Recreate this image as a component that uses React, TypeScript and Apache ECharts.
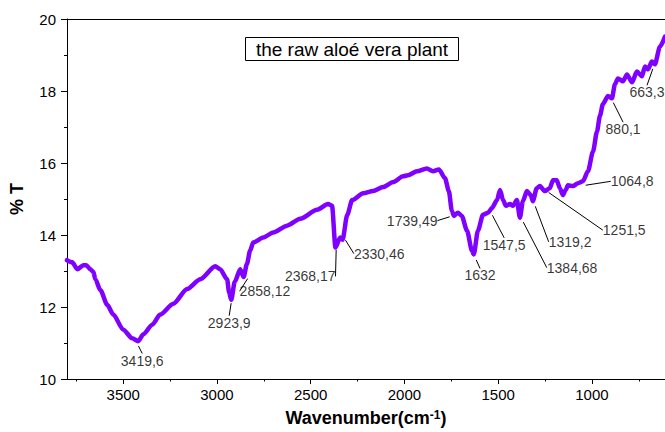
import React, { useEffect, useRef } from "react";
import * as echarts from "echarts";

// Spectrum (wavenumber in cm^-1, transmittance in %)
const wavenumbers = [
  3800, 3772, 3745, 3713, 3697, 3676, 3659, 3649, 3622, 3585, 3553, 3500, 3452, 3420, 3393, 3345, 3303,
  3233, 3159, 3089, 3009, 2983, 2946, 2935, 2924, 2905, 2876, 2858, 2840, 2823, 2807, 2753, 2700, 2626,
  2556, 2466, 2407, 2386, 2368, 2343, 2330, 2305, 2279, 2220, 2167, 2114, 2060, 2007, 1981, 1933, 1880,
  1848, 1816, 1784, 1763, 1747, 1736, 1715, 1694, 1666, 1640, 1630, 1608, 1581, 1554, 1533, 1506, 1490,
  1474, 1458, 1437, 1421, 1400, 1384, 1368, 1347, 1326, 1315, 1294, 1278, 1251, 1224, 1208, 1187, 1171,
  1155, 1140, 1128, 1101, 1074, 1048, 1021, 994, 973, 957, 941, 914, 893, 877, 861, 834, 813, 786, 760,
  733, 717, 701, 680, 664, 637, 610,
];
const transmittance = [
  13.3, 13.24, 13.05, 13.16, 13.16, 13.05, 12.97, 12.77, 12.47, 12.06, 11.79, 11.37, 11.13, 11.05, 11.24,
  11.51, 11.79, 12.09, 12.5, 12.77, 13.13, 13.05, 12.77, 12.4, 12.2, 12.7, 13.05, 12.83, 13.2, 13.57,
  13.79, 13.93, 14.07, 14.26, 14.45, 14.7, 14.86, 14.81, 13.65, 13.93, 13.87, 14.56, 14.97, 15.16, 15.22,
  15.33, 15.47, 15.63, 15.66, 15.77, 15.85, 15.77, 15.82, 15.58, 15.22, 14.67, 14.53, 14.62, 14.53, 14.12,
  13.57, 13.46, 14.12, 14.56, 14.62, 14.75, 14.97, 15.25, 14.97, 14.81, 14.86, 14.81, 14.97, 14.48, 14.94,
  15.22, 15.11, 14.94, 15.3, 15.36, 15.22, 15.3, 15.52, 15.52, 15.3, 15.11, 15.25, 15.38, 15.36, 15.44,
  15.49, 15.77, 16.32, 16.87, 17.31, 17.64, 17.86, 17.8, 18.19, 18.35, 18.27, 18.46, 18.24, 18.54, 18.41,
  18.68, 18.6, 18.82, 18.74, 19.23, 19.51,
];

// Peak annotations
const peakLabels = [
  "3419,6", "2923,9", "2858,12", "2368,17", "2330,46", "1739,49", "1632", "1547,5", "1384,68", "1319,2",
  "1251,5", "1064,8", "880,1", "663,3",
];
const peakWavenumbers = [3420, 2924, 2835, 2364, 2316, 1756, 1618, 1532, 1367, 1303, 1233, 1036, 887, 674];
const peakValues = [10.93, 12.12, 12.8, 13.6, 13.87, 14.51, 13.32, 14.56, 14.37, 14.81, 15.19, 15.38, 17.69, 18.63];

// Tick labels
const xMajorTicks = [1000, 1500, 2000, 2500, 3000, 3500];
const xMinorTicks = [750, 1250, 1750, 2250, 2750, 3250, 3750];

// label offsets (pixels) for the annotation texts
const labelOffsets: [number, number][] = [
  [4, 15], [-2, 20], [17, 13], [-26, 27], [34, 14], [-38, 4], [4, 16], [12, 30], [49, 46], [35, 36],
  [76, 38], [47, -4], [10, 27], [-6, 24],
];

const FONT = "Liberation Sans, Arial, sans-serif";
const X_MIN = 610;
const X_MAX = 3800;

export default function App() {
  const ref = useRef<HTMLDivElement>(null);
  useEffect(() => {
    if (!ref.current) return;
    const chart = echarts.init(ref.current, undefined, { renderer: "svg" });
    const lineData = wavenumbers.map((w, i) => [w, transmittance[i]]);
    const peakData = peakWavenumbers.map((w, i) => ({ name: peakLabels[i], value: [w, peakValues[i]] }));
    const baseX = {
      type: "value" as const,
      min: X_MIN,
      max: X_MAX,
      inverse: true,
      splitLine: { show: false },
    };
    chart.setOption({
      animation: false,
      backgroundColor: "#fff",
      grid: { left: 66, right: 0, top: 19, bottom: 48, containLabel: false },
      xAxis: [
        {
          ...baseX,
          position: "bottom",
          name: "{a|Wavenumber(cm}{s|-1}{a|)}",
          nameLocation: "middle",
          nameGap: 30,
          nameTextStyle: {
            rich: {
              a: { fontFamily: FONT, fontSize: 18, fontWeight: "bold", color: "#000" },
              s: { fontFamily: FONT, fontSize: 12, fontWeight: "bold", color: "#000", verticalAlign: "top" },
            },
          },
          axisLine: { show: true, lineStyle: { color: "#000", width: 1 } },
          axisTick: { show: true, length: 5, customValues: xMajorTicks, lineStyle: { color: "#000" } },
          axisLabel: {
            customValues: xMajorTicks,
            formatter: (v: number) => String(v),
            color: "#000",
            fontFamily: FONT,
            fontSize: 15,
            margin: 8,
          },
        },
        {
          ...baseX,
          position: "bottom",
          axisLine: { show: false },
          axisTick: { show: true, length: 2.5, customValues: xMinorTicks, lineStyle: { color: "#000" } },
          axisLabel: { show: false },
        },
        {
          ...baseX,
          position: "top",
          axisLine: { show: true, lineStyle: { color: "#000", width: 1 } },
          axisTick: { show: false },
          axisLabel: { show: false },
        },
      ],
      yAxis: {
        type: "value",
        min: 10,
        max: 20,
        interval: 2,
        name: "% T",
        nameLocation: "middle",
        nameGap: 41,
        nameTextStyle: { fontFamily: FONT, fontSize: 18, fontWeight: "bold", color: "#000" },
        axisLine: { show: true, lineStyle: { color: "#000", width: 1 } },
        axisTick: { show: true, length: 6, lineStyle: { color: "#000" } },
        minorTick: { show: true, splitNumber: 2, length: 3, lineStyle: { color: "#000" } },
        axisLabel: { color: "#000", fontFamily: FONT, fontSize: 15, margin: 11 },
        splitLine: { show: false },
      },
      graphic: [
        {
          type: "group",
          left: 245,
          top: 37,
          children: [
            {
              type: "rect",
              shape: { x: 0, y: 0, width: 213, height: 23 },
              style: { fill: "#fff", stroke: "#000", lineWidth: 1 },
            },
            {
              type: "text",
              x: 106.5,
              y: 12,
              style: {
                text: "the raw aloé vera plant",
                fontFamily: FONT,
                fontSize: 19,
                fill: "#000",
                align: "center",
                verticalAlign: "middle",
              },
            },
          ],
        },
      ],
      series: [
        {
          type: "line",
          data: lineData,
          showSymbol: false,
          smooth: 0.25,
          smoothMonotone: "x",
          lineStyle: { color: "#7F00FF", width: 4.5, join: "round", cap: "round" },
          itemStyle: { color: "#7F00FF" },
          z: 2,
        },
        {
          type: "scatter",
          data: peakData,
          symbolSize: 1,
          itemStyle: { color: "rgba(0,0,0,0)" },
          label: {
            show: true,
            position: "inside",
            formatter: (p: any) => p.name,
            color: "#000",
            fontFamily: FONT,
            fontSize: 14,
            align: "center",
            verticalAlign: "middle",
            textBorderWidth: 0,
          },
          labelLine: { show: true, lineStyle: { color: "#000", width: 1 } },
          labelLayout: (p: any) => ({ dx: labelOffsets[p.dataIndex][0], dy: labelOffsets[p.dataIndex][1] }),
          z: 3,
        },
      ],
    });
    return () => chart.dispose();
  }, []);
  return (
    <div
      ref={ref}
      style={{ position: "fixed", left: 0, top: 0, width: 665, height: 432, background: "#fff" }}
    />
  );
}
